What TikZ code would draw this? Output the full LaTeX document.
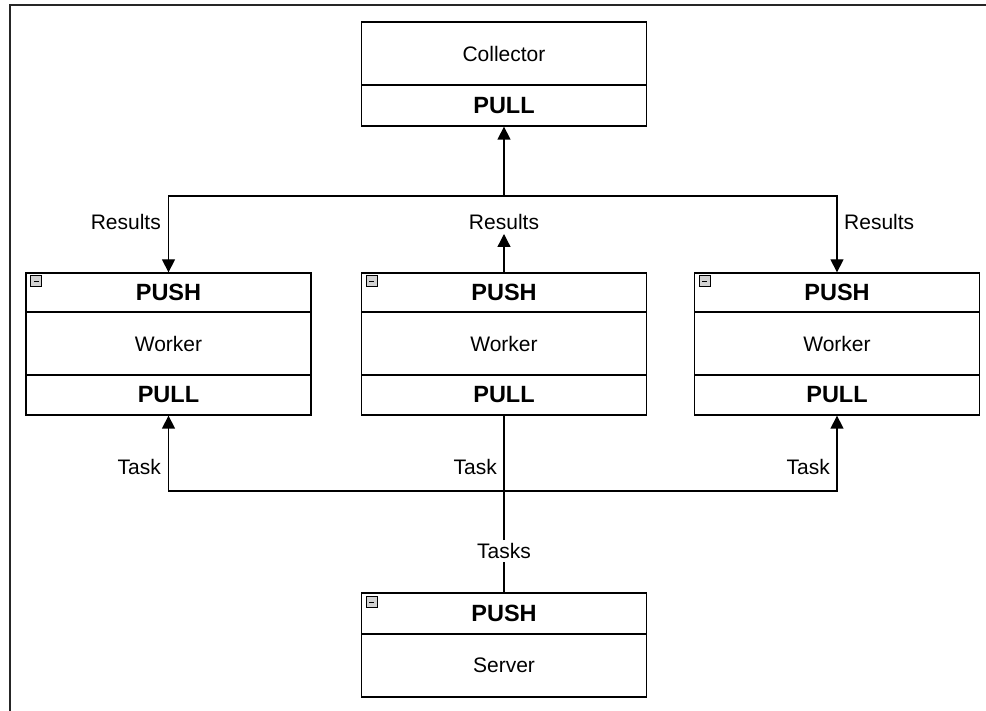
\documentclass[tikz,border=0pt]{standalone}
\usepackage{fontspec}
\setmainfont{Liberation Sans}
\usetikzlibrary{arrows.meta}
\usetikzlibrary{calc}
\tikzset{ box_part/.style = {rectangle, draw, line width=1.3pt, minimum width=285pt, inner sep=0pt, font=\fontsize{21}{25}\selectfont} }
\tikzset{ sock/.style = {box_part, font=\fontsize{23.5}{27}\selectfont\bfseries} }
\tikzset{ lbl/.style = {inner sep=1pt, font=\fontsize{21}{25}\selectfont} }
\tikzset{ mini_icon/.style = {rectangle, draw, fill=gray!35, line width=0.8pt, minimum size=11pt, inner sep=0pt} }
\tikzset{ conn/.style = {line width=1.3pt} }
\tikzset{ arr/.style = {conn, -{Triangle[width=13pt,length=13pt]}} }

\begin{document}
\begin{tikzpicture}[x=1pt, y=-1pt]
        \useasboundingbox (0,0) rectangle (986,711);
        \draw[line width=2pt, black!85] (10,711) -- (10,5) -- (986,5);
        % collector
        \node [box_part, minimum height=63pt] (col) at (504, 53.5) {Collector};
        \node [sock, minimum height=41pt] (col-pull) at (504, 105.5) {PULL};
        % workers
        \node [sock, minimum height=39pt] (lw-push) at (168.5, 292.5) {PUSH};
        \node [box_part, minimum height=63pt] (lw) at (168.5, 343.5) {Worker};
        \node [sock, minimum height=40pt] (lw-pull) at (168.5, 395) {PULL};
        \node [sock, minimum height=39pt] (mw-push) at (504, 292.5) {PUSH};
        \node [box_part, minimum height=63pt] (mw) at (504, 343.5) {Worker};
        \node [sock, minimum height=40pt] (mw-pull) at (504, 395) {PULL};
        \node [sock, minimum height=39pt] (rw-push) at (837, 292.5) {PUSH};
        \node [box_part, minimum height=63pt] (rw) at (837, 343.5) {Worker};
        \node [sock, minimum height=40pt] (rw-pull) at (837, 395) {PULL};
        % server
        \node [sock, minimum height=41pt] (sv-push) at (504, 613.5) {PUSH};
        \node [box_part, minimum height=63pt] (sv) at (504, 665.5) {Server};
        % little icons
        \node [mini_icon] (lw-ico) at ($(lw-push.north west)+(11,9)$) {\rule{5pt}{1.4pt}};
        \node [mini_icon] (mw-ico) at ($(mw-push.north west)+(11,9)$) {\rule{5pt}{1.4pt}};
        \node [mini_icon] (rw-ico) at ($(rw-push.north west)+(11,9)$) {\rule{5pt}{1.4pt}};
        \node [mini_icon] (sv-ico) at ($(sv-push.north west)+(11,10)$) {\rule{5pt}{1.4pt}};
        % labels
        \node [lbl, anchor=east] (res-l) at (162, 222) {Results};
        \node [lbl, anchor=south, inner sep=4pt] (res-m) at (504, 234) {Results};
        \node [lbl, anchor=west] (res-r) at (843, 222) {Results};
        \node [lbl, anchor=east] (task-l) at (162, 467) {Task};
        \node [lbl, anchor=east] (task-m) at (498, 467) {Task};
        \node [lbl, anchor=east] (task-r) at (831, 467) {Task};
        \node [lbl, inner sep=3pt] (tasks) at (504, 551) {Tasks};
        % buses
        \coordinate (rb) at (504, 196);
        \coordinate (tb) at (504, 491);
        \draw[arr] (rb) to (col-pull);
        \draw[arr] (rb) -| (lw-push);
        \draw[arr] (rb) -| (rw-push);
        \draw[arr] (mw-push) to (res-m);
        \draw[arr] (tb) -| (lw-pull);
        \draw[arr] (tb) -| (rw-pull);
        \draw[conn] (sv-push) -- (tasks) -- (mw-pull);
\end{tikzpicture}
\end{document}
